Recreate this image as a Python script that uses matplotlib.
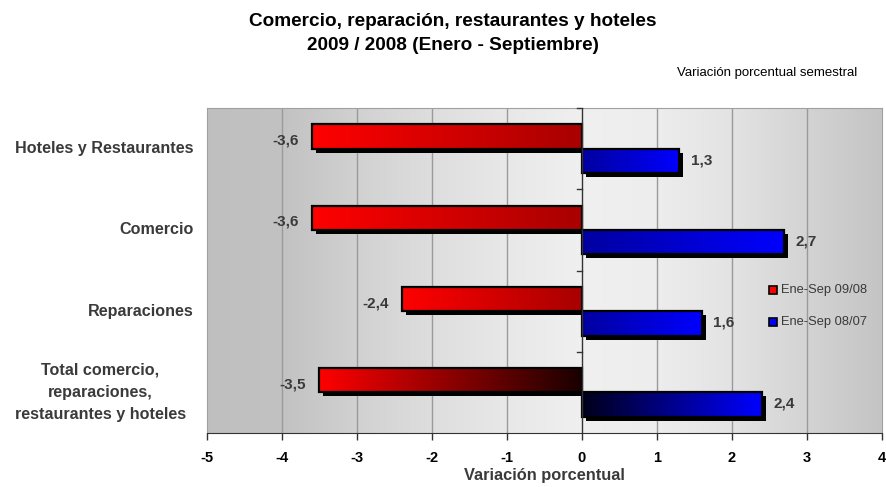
import numpy as np
import matplotlib
matplotlib.use("Agg")
import matplotlib.pyplot as plt
import matplotlib.transforms as mtransforms
from matplotlib.colors import LinearSegmentedColormap

plt.rcParams["font.family"] = ["Liberation Sans", "DejaVu Sans"]

# ──────────────────────────────────────────────
# Datos
# ──────────────────────────────────────────────
categorias = ["Hoteles y Restaurantes", "Comercio", "Reparaciones",
              "Total comercio,\nreparaciones,\nrestaurantes y hoteles"]
serie_0908 = [-3.6, -3.6, -2.4, -3.5]
serie_0807 = [1.3, 2.7, 1.6, 2.4]
etiquetas_0908 = ["-3,6", "-3,6", "-2,4", "-3,5"]
etiquetas_0807 = ["1,3", "2,7", "1,6", "2,4"]
nombres_series = ["Ene-Sep 09/08", "Ene-Sep 08/07"]
xticks = [-5, -4, -3, -2, -1, 0, 1, 2, 3, 4]

TEXTO = "#3a3a3a"

fig = plt.figure(figsize=(8.87, 4.87), dpi=100)
ax = fig.add_axes([207 / 887, 1 - 433 / 487, 675 / 887, 325 / 487])
ax.set_xlim(-5, 4)
ax.set_ylim(3.5, -0.5)

# fondo con degradado horizontal (claro al centro, gris en los bordes)
gx = np.linspace(-5, 4, 400)
gl = np.interp(gx, [-5, -4, -3, -2, -1, 0, 1, 2, 3, 4],
               [0.75, 0.76, 0.82, 0.87, 0.91, 0.94, 0.93, 0.89, 0.83, 0.77])
ax.imshow(np.dstack([gl, gl, gl]), extent=[-5, 4, 3.5, -0.5],
          aspect="auto", zorder=0)

for v in xticks:
    if v not in (-5, 0, 4):
        ax.axvline(v, color="#9a9a9a", linewidth=1.0, zorder=1)

y = np.arange(len(categorias))
alto = 0.3
desp = 4  # desplazamiento de la sombra en píxeles
sombra = mtransforms.offset_copy(ax.transData, fig=fig, x=desp, y=-desp, units="dots")
px = 9 / 675  # unidades de datos por píxel en x


def barras(pos, valores, cmaps):
    bs = ax.barh(pos, valores, height=alto, facecolor="none",
                 edgecolor="black", linewidth=1.6, zorder=4)
    for b, cm in zip(bs, cmaps):
        x0, x1 = sorted([b.get_x(), b.get_x() + b.get_width()])
        y0, y1 = b.get_y(), b.get_y() + b.get_height()
        # sombra negra desplazada; en barras negativas no cruza el eje cero
        xs1 = x1 - desp * px if x1 <= 0 else x1
        ax.add_patch(plt.Rectangle((x0, y0), xs1 - x0, y1 - y0,
                                   facecolor="black", edgecolor="none",
                                   transform=sombra, zorder=2))
        grad = np.linspace(0, 1, 256)[None, :]
        im = ax.imshow(grad, cmap=cm, extent=[x0, x1, y1, y0],
                       aspect="auto", zorder=3)
        im.set_clip_path(b)
    return bs


rojo = LinearSegmentedColormap.from_list("rojo", ["#ff0000", "#a80000"])
rojo_total = LinearSegmentedColormap.from_list("rojo_t", ["#ff0000", "#1a0000"])
azul = LinearSegmentedColormap.from_list("azul", ["#0000a0", "#0000ff"])
azul_total = LinearSegmentedColormap.from_list("azul_t", ["#00001a", "#0000ff"])

barras(y - alto / 2, serie_0908, [rojo, rojo, rojo, rojo_total])
barras(y + alto / 2, serie_0807, [azul, azul, azul, azul_total])

for i in range(len(categorias)):
    ax.text(serie_0908[i] - 0.18, y[i] - alto / 2 + 0.05, etiquetas_0908[i],
            ha="right", va="center", fontsize=11, fontweight="bold", color=TEXTO)
    ax.text(serie_0807[i] + 0.15, y[i] + alto / 2 - 0.01, etiquetas_0807[i],
            ha="left", va="center", fontsize=11, fontweight="bold", color=TEXTO)

# eje vertical en cero con marcas entre categorías
ax.axvline(0, color="#333333", linewidth=1.0, zorder=5)
for yb in [-0.5, 0.5, 1.5, 2.5]:
    ax.plot([-0.07, 0], [yb, yb], color="#333333", linewidth=1.0, zorder=5,
            clip_on=False)

for s in ["left", "top", "right"]:
    ax.spines[s].set_color("#a0a0a0")
ax.spines["bottom"].set_color("#333333")
ax.set_yticks(y)
ax.set_yticklabels([])
ax.tick_params(axis="y", length=0)
ax.set_xticks(xticks)
ax.set_xticklabels([str(v) for v in xticks], fontsize=10.5, fontweight="bold")
ax.tick_params(axis="x", length=5, width=1.0, color="#333333", pad=8)
ax.set_xlabel("Variación porcentual", fontsize=11.8, fontweight="bold",
              color=TEXTO, labelpad=2)

# etiquetas de categorías
for i, c in enumerate(categorias):
    if "\n" in c:
        ax.text(-6.42, y[i], c, ha="center", va="center", fontsize=11.6,
                fontweight="bold", color=TEXTO, linespacing=1.6)
    else:
        ax.text(-5.18, y[i], c, ha="right", va="center", fontsize=11.6,
                fontweight="bold", color=TEXTO)

# leyenda
for k, (nombre, col) in enumerate(zip(nombres_series, ["#ff0000", "#0000ff"])):
    yy = 290 + 32 * k
    fig.patches.append(plt.Rectangle((769 / 887, 1 - (yy + 4) / 487), 8 / 887, 8 / 487,
                                     facecolor=col, edgecolor="black", linewidth=1.2,
                                     transform=fig.transFigure, figure=fig, zorder=6))
    fig.text(781 / 887, 1 - yy / 487, nombre, ha="left", va="center",
             fontsize=9.3, color=TEXTO)

fig.text(453 / 887, 1 - 22 / 487, "Comercio, reparación, restaurantes y hoteles",
         ha="center", va="center", fontsize=13.7, fontweight="bold", color="black")
fig.text(453 / 887, 1 - 45 / 487, "2009 / 2008 (Enero - Septiembre)",
         ha="center", va="center", fontsize=13.7, fontweight="bold", color="black")
fig.text(857 / 887, 1 - 73 / 487, "Variación porcentual semestral",
         ha="right", va="center", fontsize=9.5, color="black")

fig.savefig("out.png", dpi=100, facecolor="white")
